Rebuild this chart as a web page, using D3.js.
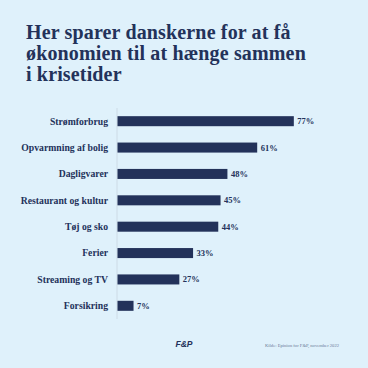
<!DOCTYPE html>
<html>
<head>
<meta charset="utf-8">
<script src="https://cdn.jsdelivr.net/npm/d3@7/dist/d3.min.js"></script>
<style>
  body { margin: 0; padding: 0; background: #dff1fb; }
  svg { display: block; }
</style>
</head>
<body>
<svg width="368" height="368"></svg>
<script>
const categories = ['Strømforbrug', 'Opvarmning af bolig', 'Dagligvarer', 'Restaurant og kultur',
                    'Tøj og sko', 'Ferier', 'Streaming og TV', 'Forsikring']
const values = [77, 61, 48, 45, 44, 33, 27, 7]
const titleLines = ['Her sparer danskerne for at få', 'økonomien til at hænge sammen', 'i krisetider']
const source = 'Kilde: Epinion for F&P, november 2022'

const svg = d3.select('svg')
const width = +svg.attr('width')
const height = +svg.attr('height')
const navy = '#23325a'
const serif = '"Liberation Serif", "DejaVu Serif", serif'

svg.append('rect').attr('width', width).attr('height', height).attr('fill', '#dff1fb')

// title
svg.append('g').selectAll('text')
  .data(titleLines)
  .enter()
  .append('text')
  .attr('x', 26)
  .attr('y', (d, i) => 38.5 + i * 21)
  .attr('font-family', serif)
  .attr('font-weight', 'bold')
  .attr('font-size', 20)
  .attr('letter-spacing', 0.15)
  .attr('fill', navy)
  .text(d => d)

const margin = {top: 108, left: 117, bottom: 49, right: 20}
const innerHeight = height - margin.top - margin.bottom

const xScale = d3.scaleLinear().domain([0, 100]).range([0, 229])
const yScale = d3.scaleBand().domain(categories).range([0, innerHeight]).paddingInner(0.62).paddingOuter(0.31)

const g = svg.append('g').attr('transform', `translate(${margin.left},${margin.top})`)

// axis line
g.append('line')
  .attr('x1', 0).attr('x2', 0)
  .attr('y1', 0).attr('y2', innerHeight)
  .attr('stroke', '#cddbe6')

const data = categories.map((c, i) => ({cat: c, val: values[i]}))

// category labels
g.selectAll('text.cat')
  .data(data)
  .enter()
  .append('text')
  .attr('class', 'cat')
  .attr('x', -9)
  .attr('y', d => yScale(d.cat) + yScale.bandwidth() / 2)
  .attr('dy', '0.35em')
  .attr('text-anchor', 'end')
  .attr('font-family', serif)
  .attr('font-weight', 'bold')
  .attr('font-size', 9.7)
  .attr('fill', navy)
  .text(d => d.cat)

g.selectAll('rect.bar')
  .data(data)
  .enter()
  .append('rect')
  .attr('class', 'bar')
  .attr('x', 0.5)
  .attr('y', d => yScale(d.cat))
  .attr('width', d => xScale(d.val))
  .attr('height', yScale.bandwidth())
  .attr('fill', navy)

g.selectAll('text.val')
  .data(data)
  .enter()
  .append('text')
  .attr('class', 'val')
  .attr('x', d => xScale(d.val) + 4)
  .attr('y', d => yScale(d.cat) + yScale.bandwidth() / 2)
  .attr('dy', '0.35em')
  .attr('font-family', serif)
  .attr('font-weight', 'bold')
  .attr('font-size', 8.5)
  .attr('fill', navy)
  .text(d => d.val + '%')

// footer
svg.append('text')
  .attr('x', 184)
  .attr('y', 346.5)
  .attr('text-anchor', 'middle')
  .attr('font-family', '"Liberation Sans", Arial, sans-serif')
  .attr('font-weight', 'bold')
  .attr('font-style', 'italic')
  .attr('font-size', 8.5)
  .attr('fill', navy)
  .text('F&P')

svg.append('text')
  .attr('x', 265)
  .attr('y', 347)
  .attr('font-family', serif)
  .attr('font-size', 4.6)
  .attr('fill', '#6a7a98')
  .text(source)
</script>
</body>
</html>
